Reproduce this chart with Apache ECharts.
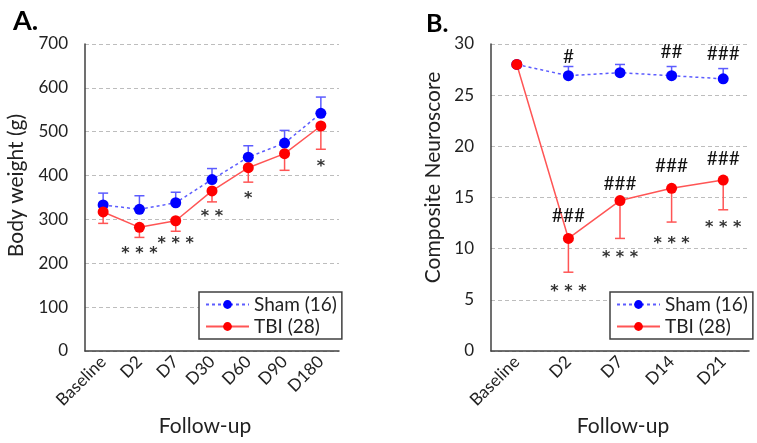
<!DOCTYPE html>
<html><head><meta charset="utf-8">
<script src="https://cdn.jsdelivr.net/npm/echarts@6/dist/echarts.min.js"></script>
<style>html,body{margin:0;padding:0;background:#fff}#c{width:757px;height:443px}</style>
</head><body><div id="c"></div>
<script>
// Panel A: body weight
const catsA = ['Baseline','D2','D7','D30','D60','D90','D180'];
const shamA = [333, 323, 338, 391, 442, 474, 542];
const shamA_upper = [360, 354, 362, 416, 468, 503, 579];
const tbiA = [317, 282, 297, 365, 418, 450, 513];
const tbiA_lower = [291, 259, 273, 340, 385, 412, 460];
const yTicksA = {min: 0, max: 700, interval: 100};
const annotA = [[1, 222, '* * *'], [2, 244, '* * *'], [3, 307, '* *'], [4, 348, '*'], [6, 420, '*']];

// Panel B: composite neuroscore
const catsB = ['Baseline','D2','D7','D14','D21'];
const shamB = [28.0, 26.9, 27.2, 26.9, 26.6];
const shamB_upper = [28.0, 27.8, 28.0, 27.8, 27.6];
const tbiB = [28.0, 11.0, 14.7, 15.9, 16.7];
const tbiB_lower = [28.0, 7.7, 11.0, 12.6, 13.8];
const yTicksB = {min: 0, max: 30, interval: 5};
const hashB = [[1, 28.7, '#'], [3, 29.2, '##'], [4, 29.0, '###'], [1, 13.2, '###'], [2, 16.3, '###'], [3, 18.1, '###'], [4, 18.8, '###']];
const starB = [[1, 5.8, '* * *'], [2, 9.1, '* * *'], [3, 10.5, '* * *'], [4, 12.0, '* * *']];

const FONT = 'Lato, "Open Sans", sans-serif';
const STAR_FONT = '"DejaVu Sans", sans-serif';
const AX = '#404040';
const BLUE = '#0000ff', BLUE_L = '#5c5cff';
const RED = '#ff0000', RED_L = '#ff5555';

function errSeries(name, xi, yi, mean, bound, color) {
  return {
    type: 'custom', name: name + '_err', xAxisIndex: xi, yAxisIndex: yi, z: 3,
    silent: true,
    data: mean.map((m, i) => [i, m, bound[i]]),
    encode: {x: 0, y: [1, 2]},
    renderItem: function (params, api) {
      const p1 = api.coord([api.value(0), api.value(1)]);
      const p2 = api.coord([api.value(0), api.value(2)]);
      const hw = 5;
      return {type: 'group', children: [
        {type: 'line', shape: {x1: p1[0], y1: p1[1], x2: p2[0], y2: p2[1]}, style: {stroke: color, lineWidth: 1.5}},
        {type: 'line', shape: {x1: p2[0] - hw, y1: p2[1], x2: p2[0] + hw, y2: p2[1]}, style: {stroke: color, lineWidth: 1.5}}
      ]};
    }
  };
}
function textSeries(xi, yi, arr, size, weight, color, font) {
  return {
    type: 'custom', xAxisIndex: xi, yAxisIndex: yi, silent: true, z: 5,
    data: arr.map(a => [a[0], a[1], a[2]]),
    encode: {x: 0, y: 1},
    renderItem: function (params, api) {
      const p = api.coord([api.value(0), api.value(1)]);
      return {type: 'text', x: p[0], y: p[1], style: {text: arr[params.dataIndex][2], fill: color, font: weight + ' ' + size + 'px ' + font, align: 'center', verticalAlign: 'middle'}};
    }
  };
}
function lineSeries(name, xi, yi, data, lineColor, symColor, dashed, z) {
  return {
    type: 'line', name: name, xAxisIndex: xi, yAxisIndex: yi, data: data, z: z,
    symbol: 'circle', symbolSize: 11, showSymbol: true, animation: false,
    lineStyle: {color: lineColor, width: 1.5, type: dashed ? [3, 3] : 'solid'},
    itemStyle: {color: symColor, borderWidth: 0}
  };
}
function xAxis(cats, gi, namePad) {
  return {
    type: 'category', gridIndex: gi, data: cats, boundaryGap: true,
    name: 'Follow-up', nameLocation: 'middle', nameGap: 63,
    nameTextStyle: {fontFamily: FONT, fontSize: 21, color: '#222', padding: namePad},
    axisLine: {lineStyle: {color: AX, width: 1.5}},
    axisTick: {inside: true, length: 6, lineStyle: {color: AX, width: 1.5}},
    axisLabel: {rotate: 45, fontFamily: FONT, fontSize: 17, color: '#222', margin: 8},
    splitLine: {show: false}
  };
}
function yAxis(t, gi, name, gap, namePad) {
  return {
    type: 'value', gridIndex: gi, min: t.min, max: t.max, interval: t.interval,
    name: name, nameLocation: 'middle', nameGap: gap,
    nameTextStyle: {fontFamily: FONT, fontSize: 21, color: '#222', padding: namePad},
    axisLine: {show: true, lineStyle: {color: AX, width: 1.5}},
    axisTick: {show: false},
    axisLabel: {fontFamily: FONT, fontSize: 17, color: '#222', margin: 17},
    splitLine: {show: true, lineStyle: {color: '#bdbdbd', type: [4, 3], width: 1}}
  };
}

const legendBase = {
  orient: 'vertical', data: ['Sham (16)', 'TBI (28)'],
  backgroundColor: '#fff', borderColor: AX, borderWidth: 1.5, borderRadius: 0, padding: [3, 5, 3, 6],
  itemWidth: 43, itemHeight: 11, itemGap: 3, selectedMode: false,
  textStyle: {fontFamily: FONT, fontSize: 19, color: '#222'}
};

const chart = echarts.init(document.getElementById('c'), null, {renderer: 'canvas'});
chart.setOption({
  animation: false,
  backgroundColor: '#fff',
  title: [
    {text: 'A.', left: 8, top: 3, textStyle: {fontFamily: FONT, fontSize: 27, fontWeight: 'bold', color: '#000'}},
    {text: 'B.', left: 421, top: 6, textStyle: {fontFamily: FONT, fontSize: 25, fontWeight: 'bold', color: '#000'}}
  ],
  grid: [
    {left: 85, right: 418, top: 44, bottom: 92},
    {left: 491, right: 8, top: 44, bottom: 92}
  ],
  xAxis: [xAxis(catsA, 0, [0, 14, 0, 0]), xAxis(catsB, 1, [0, 0, 0, 6])],
  yAxis: [yAxis(yTicksA, 0, 'Body weight (g)', 58, [0, 0, 0, 24]), yAxis(yTicksB, 1, 'Composite Neuroscore', 47, [0, 0, 0, 40])],
  legend: [
    Object.assign({left: 199, top: 292}, legendBase),
    Object.assign({left: 610, top: 292}, legendBase)
  ],
  series: [
    errSeries('ShamA', 0, 0, shamA, shamA_upper, BLUE_L),
    errSeries('TBIA', 0, 0, tbiA, tbiA_lower, RED_L),
    lineSeries('Sham (16)', 0, 0, shamA, BLUE_L, BLUE, true, 4),
    lineSeries('TBI (28)', 0, 0, tbiA, RED_L, RED, false, 4),
    textSeries(0, 0, annotA, 16, 'bold', '#333', STAR_FONT),
    errSeries('ShamB', 1, 1, shamB, shamB_upper, BLUE_L),
    errSeries('TBIB', 1, 1, tbiB, tbiB_lower, RED_L),
    lineSeries('Sham (16)', 1, 1, shamB, BLUE_L, BLUE, true, 4),
    lineSeries('TBI (28)', 1, 1, tbiB, RED_L, RED, false, 4),
    textSeries(1, 1, hashB, 19, 'normal', '#111', FONT),
    textSeries(1, 1, starB, 16, 'bold', '#333', STAR_FONT)
  ]
});
</script></body></html>
